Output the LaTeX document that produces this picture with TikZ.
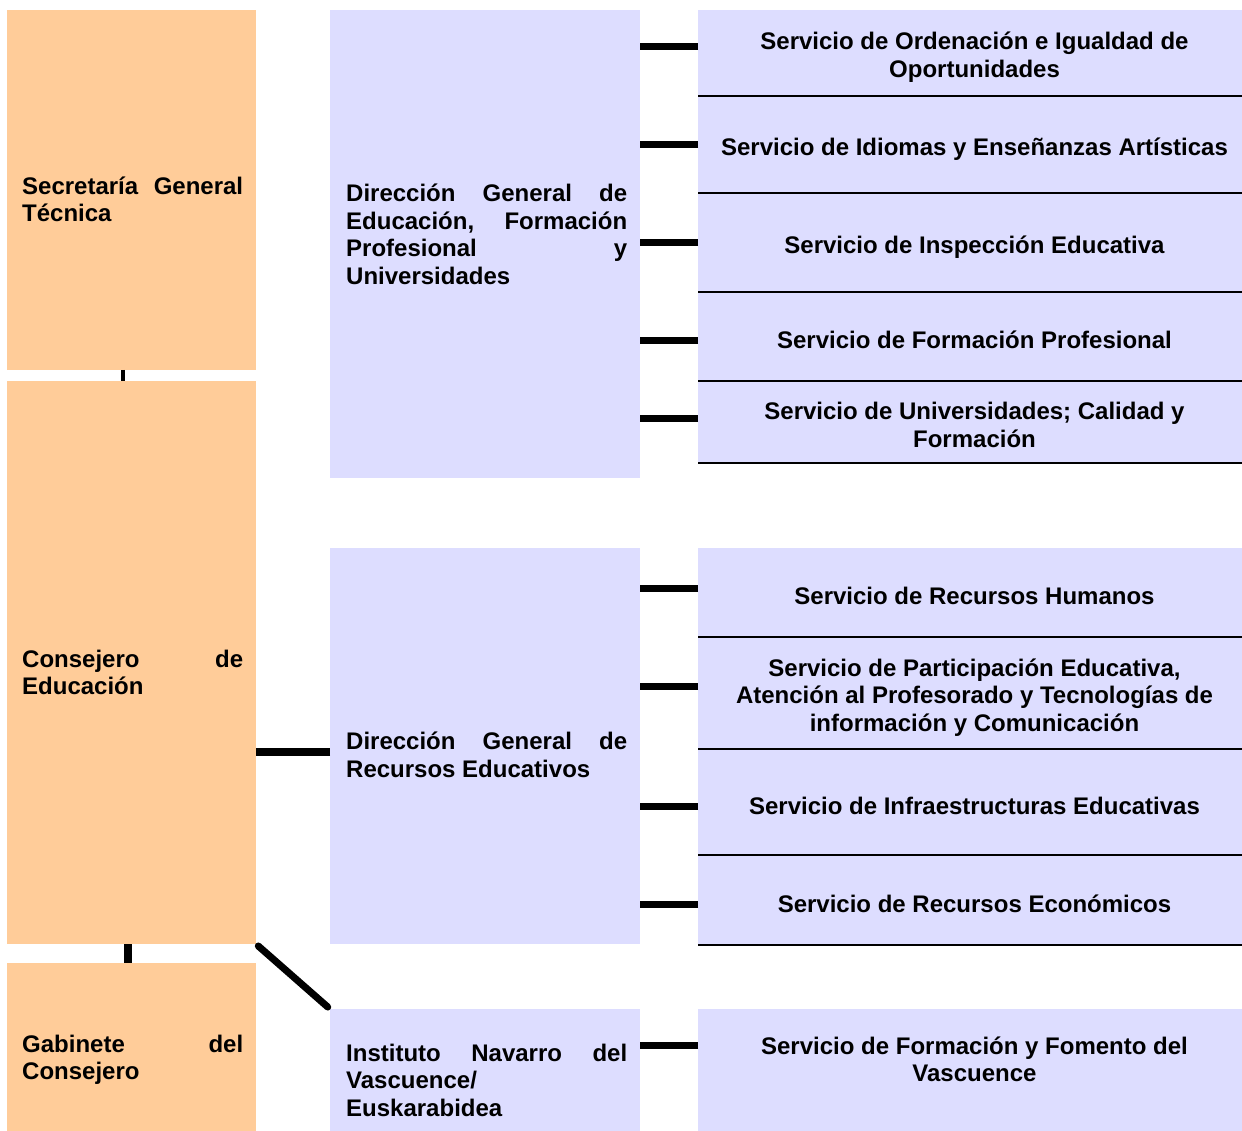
\documentclass[tikz,border=0pt]{standalone}
\usepackage{fontspec}
\setmainfont{Liberation Sans}
\definecolor{orgc}{RGB}{255,204,153}
\definecolor{bluec}{RGB}{221,221,255}
\newcommand\myfs{\fontsize{24}{27.5}\selectfont\bfseries\hyphenpenalty=10000 \exhyphenpenalty=10000 \tolerance=10000 }
\begin{document}
\begin{tikzpicture}[x=1pt,y=-1pt,
  box/.style={anchor=north west, inner sep=0pt, outer sep=0pt, draw=none},
  org/.style={box, fill=orgc, minimum width=249pt},
  dg/.style={box, fill=bluec, minimum width=310pt},
  srv/.style={box, fill=bluec, minimum width=544pt},
  ltxt/.style={anchor=west, inner sep=0pt, text width=221pt, align=justify, font=\myfs},
  dtxt/.style={ltxt, text width=281pt},
  stxt/.style={inner sep=0pt, align=center, font=\myfs},
  conn/.style={line width=7pt},
  sline/.style={line width=1.6pt}
]
\useasboundingbox (0,0) rectangle (1242,1131);
% left column
\node[org, minimum height=360pt] (sec) at (7,10) {};
\node[org, minimum height=563pt] (cons) at (7,381) {};
\node[org, minimum height=168pt] (gab) at (7,963) {};
% middle column
\node[dg, minimum height=468pt] (dge) at (330,10) {};
\node[dg, minimum height=396pt] (dgr) at (330,548) {};
\node[dg, minimum height=122pt] (inst) at (330,1009) {};
% services
\node[srv, minimum height=86pt] (s1) at (698,10) {};
\node[srv, minimum height=97pt] (s2) at (698,96) {};
\node[srv, minimum height=99pt] (s3) at (698,193) {};
\node[srv, minimum height=89pt] (s4) at (698,292) {};
\node[srv, minimum height=82pt] (s5) at (698,381) {};
\node[srv, minimum height=89pt] (s6) at (698,548) {};
\node[srv, minimum height=112pt] (s7) at (698,637) {};
\node[srv, minimum height=106pt] (s8) at (698,749) {};
\node[srv, minimum height=90pt] (s9) at (698,855) {};
\node[srv, minimum height=122pt] (s10) at (698,1009) {};
\foreach \s in {s1,s2,s3,s4,s5,s6,s7,s8,s9}{
  \draw[sline] (\s.south west) -- (\s.south east);
}
% texts
\node[ltxt] (tsec) at (22,199.5) {Secretaría General\linebreak Técnica};
\node[ltxt] (tcons) at (22,672.5) {Consejero de\linebreak Educación};
\node[ltxt] (tgab) at (22,1060) {Gabinete del\linebreak Consejero};
\node[dtxt] (tdge) at (346,234.5) {Dirección General de\linebreak Educación, Formación\linebreak Profesional y\linebreak Universidades};
\node[dtxt] (tdgr) at (346,755) {Dirección General de\linebreak Recursos Educativos};
\node[dtxt] (tinst) at (346,1080) {Instituto Navarro del\linebreak Vascuence/ Euskarabidea};
\node[stxt] (t1) at (974.5,57) {Servicio de Ordenación e Igualdad de\\Oportunidades};
\node[stxt] (t2) at (974.5,149) {Servicio de Idiomas y Enseñanzas Artísticas};
\node[stxt] (t3) at (974.5,247) {Servicio de Inspección Educativa};
\node[stxt] (t4) at (974.5,340) {Servicio de Formación Profesional};
\node[stxt] (t5) at (974.5,425) {Servicio de Universidades; Calidad y\\Formación};
\node[stxt] (t6) at (974.5,595.5) {Servicio de Recursos Humanos};
\node[stxt] (t7) at (974.5,697.5) {Servicio de Participación Educativa,\\Atención al Profesorado y Tecnologías de\\información y Comunicación};
\node[stxt] (t8) at (974.5,805.5) {Servicio de Infraestructuras Educativas};
\node[stxt] (t9) at (974.5,903.5) {Servicio de Recursos Económicos};
\node[stxt] (t10) at (974.5,1059.5) {Servicio de Formación y Fomento del\\Vascuence};
% connectors to services
\foreach \s/\sh/\p in {s1/6/dge,s2/0/dge,s3/0/dge,s4/-4.5/dge,s5/4/dge,s6/4.5/dgr,s7/7/dgr,s8/-4/dgr,s9/-4/dgr,s10/25/inst}{
  \coordinate (c\s) at ([yshift=\sh pt]\s.west);
  \draw[conn] (c\s) -- (c\s -| \p.east);
}
% left connectors
\coordinate (k1) at ([xshift=-8.5pt]sec.south);
\draw[line width=4pt] (k1) -- (k1 |- cons.north);
\coordinate (k2) at ([xshift=-3.5pt]cons.south);
\draw[line width=8pt] (k2) -- (k2 |- gab.north);
\coordinate (k3) at ([yshift=-6pt]dgr.west);
\draw[line width=8pt] (k3) -- (k3 -| cons.east);
\draw[line width=7pt, line cap=round, shorten <=3pt, shorten >=3pt] (cons.south east) -- (inst.north west);
\end{tikzpicture}
\end{document}
